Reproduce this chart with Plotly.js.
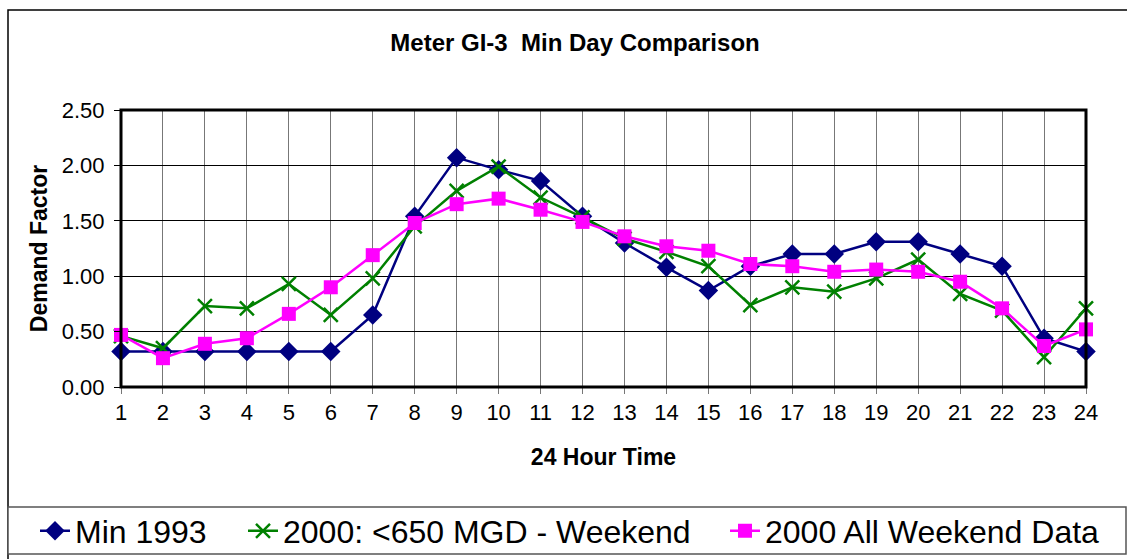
<!DOCTYPE html>
<html>
<head>
<meta charset="utf-8">
<script src="https://cdn.plot.ly/plotly-3.0.1.min.js"></script>
<style>html,body{margin:0;padding:0;background:#fff;}#chart{width:1127px;height:559px;}</style>
</head>
<body>
<div id="chart"></div>
<script>
const hours = [1,2,3,4,5,6,7,8,9,10,11,12,13,14,15,16,17,18,19,20,21,22,23,24];
const min1993 = [0.32,0.32,0.32,0.32,0.32,0.32,0.65,1.54,2.07,1.96,1.86,1.54,1.30,1.08,0.87,1.09,1.20,1.20,1.31,1.31,1.20,1.09,0.44,0.32];
const weekend650 = [0.46,0.35,0.73,0.71,0.93,0.65,0.98,1.45,1.77,1.99,1.71,1.53,1.34,1.22,1.09,0.74,0.90,0.86,0.98,1.15,0.84,0.69,0.27,0.71];
const allWeekend = [0.47,0.26,0.39,0.44,0.66,0.90,1.19,1.48,1.65,1.70,1.60,1.49,1.36,1.27,1.23,1.11,1.09,1.04,1.06,1.04,0.95,0.71,0.37,0.52];
const seriesNames = ["Min 1993","2000: <650 MGD - Weekend","2000 All Weekend Data"];
const yTicks = [0,0.5,1,1.5,2,2.5];
const yTickText = ["0.00","0.50","1.00","1.50","2.00","2.50"];

const FONT = "Liberation Sans, Arial, sans-serif";
const traces = [
  {x: hours, y: min1993, name: seriesNames[0], mode: "lines+markers", cliponaxis: false, legend: "legend",
   line: {color: "#000080", width: 2.5}, marker: {symbol: "diamond", size: 15, color: "#000080"}},
  {x: hours, y: weekend650, name: seriesNames[1], mode: "lines+markers", cliponaxis: false, legend: "legend2",
   line: {color: "#008000", width: 2.5}, marker: {symbol: "x-thin", size: 14, color: "#008000", line: {color: "#008000", width: 2.5}}},
  {x: hours, y: allWeekend, name: seriesNames[2], mode: "lines+markers", cliponaxis: false, legend: "legend3",
   line: {color: "#FF00FF", width: 2.5}, marker: {symbol: "square", size: 14, color: "#FF00FF"}}
];

const L = 121, R = 1086, T = 110, B = 387;
const px = v => (v - L) / (R - L);
const py = v => (B - v) / (B - T);

function legendAt(xLeft) {
  return {orientation: "h", xref: "container", x: xLeft/1127, xanchor: "left",
          yref: "container", y: 1 - 531/559, yanchor: "middle",
          font: {family: FONT, size: 32}, bgcolor: "rgba(0,0,0,0)", borderwidth: 0,
          itemwidth: 30};
}

const layout = {
  width: 1127, height: 559,
  margin: {l: L, r: 1127 - R, t: T, b: 559 - B},
  paper_bgcolor: "#fff", plot_bgcolor: "#fff",
  font: {family: FONT, color: "#000", size: 16},
  title: {text: "<b>Meter GI-3  Min Day Comparison</b>", font: {family: FONT, size: 24, color: "#000"},
          xref: "container", x: 575/1127, xanchor: "center", yref: "container", y: 1 - 43/559, yanchor: "middle"},
  xaxis: {range: [1, 24], tickmode: "array", tickvals: hours, ticktext: hours.map(String),
          showgrid: true, gridcolor: "#777", gridwidth: 1, zeroline: false,
          showline: false, ticks: "outside", ticklen: 6, tickcolor: "#777", tickwidth: 1,
          tickfont: {family: FONT, size: 22}, automargin: false,
          title: {text: "<b>24 Hour Time</b>", font: {family: FONT, size: 23}, standoff: 24}},
  yaxis: {range: [0, 2.5], tickmode: "array", tickvals: yTicks, ticktext: yTickText,
          showgrid: true, gridcolor: "#000", gridwidth: 1, zeroline: false,
          showline: false, ticks: "outside", ticklen: 6, tickcolor: "#000", tickwidth: 1,
          ticklabelstandoff: 5,
          tickfont: {family: FONT, size: 22}, automargin: false,
          title: {text: "<b>Demand Factor</b>", font: {family: FONT, size: 23}, standoff: 7}},
  showlegend: true,
  legend: legendAt(35),
  legend2: legendAt(243),
  legend3: legendAt(725),
  shapes: [
    {type: "rect", xref: "paper", yref: "paper", x0: 0, x1: 1, y0: 0, y1: 1,
     line: {color: "#000", width: 3}, layer: "above"},
    {type: "rect", xref: "paper", yref: "paper", x0: px(8), x1: px(1140), y0: py(575), y1: py(10),
     line: {color: "#000", width: 1.5}, layer: "below"},
    {type: "rect", xref: "paper", yref: "paper", x0: px(8), x1: px(1126), y0: py(554), y1: py(507),
     line: {color: "#555", width: 1.5}, fillcolor: "#fff", layer: "below"}
  ]
};

Plotly.newPlot("chart", traces, layout, {staticPlot: true, displayModeBar: false});
</script>
</body>
</html>
